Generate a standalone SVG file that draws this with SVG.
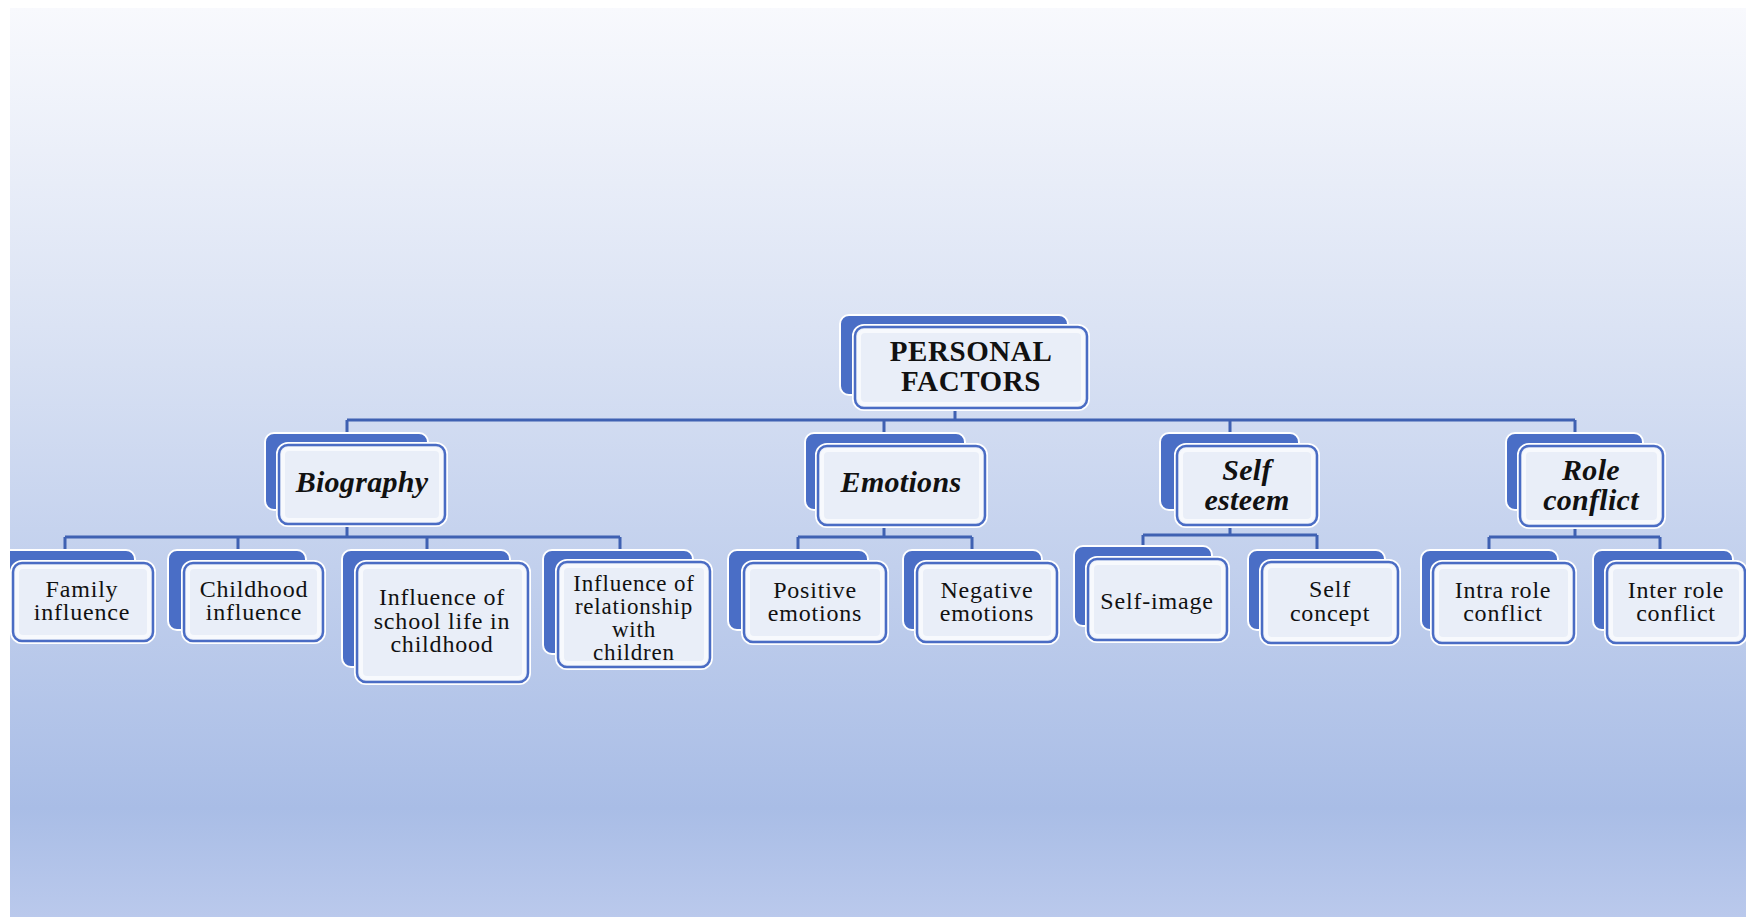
<svg xmlns="http://www.w3.org/2000/svg" width="1746" height="917" viewBox="0 0 1746 917">
  <defs>
    <linearGradient id="bg" x1="0" y1="0" x2="0" y2="1">
      <stop offset="0" stop-color="#f8f9fd"/>
      <stop offset="0.35" stop-color="#dbe3f4"/>
      <stop offset="0.88" stop-color="#a9bde6"/>
      <stop offset="1" stop-color="#bac9ec"/>
    </linearGradient>
    <clipPath id="page">
      <rect x="10" y="8" width="1736" height="909"/>
    </clipPath>
    <style>
      .back { fill: #4a6ec6; stroke: #ffffff; stroke-width: 2; }
      .halo { fill: none; stroke: #ffffff; stroke-width: 6; }
      .front { fill: #e9eef8; stroke: #4a6cc4; stroke-width: 2.5; }
      .rim { fill: none; stroke: #f7f9fd; stroke-width: 4; }
      .conn { fill: none; stroke: #3f61b2; stroke-width: 3; }
      text { font-family: "Liberation Serif", "Times New Roman", serif; fill: #111111; text-anchor: middle; }
      .root { font-size: 29px; font-weight: bold; letter-spacing: 0.6px; }
      .l2 { font-size: 30px; font-weight: bold; font-style: italic; letter-spacing: 0.3px; }
      .l3 { font-size: 24px; letter-spacing: 0.8px; }
      .tight { font-size: 23px; letter-spacing: 0.8px; }
    </style>
  </defs>

  <rect x="0" y="0" width="1746" height="917" fill="#ffffff"/>
  <rect x="10" y="8" width="1736" height="909" fill="url(#bg)"/>

  <g clip-path="url(#page)">
    <!-- elbow connectors between levels -->
    <g id="connectors">
      <path class="conn" d="M955 408 V420 M347 420 H1575 M347 420 V433 M884 420 V433 M1230 420 V433 M1575 420 V433"/>
      <path class="conn" d="M347 523 V537 M65 537 H620 M65 537 V550 M238 537 V550 M427 537 V550 M620 537 V550"/>
      <path class="conn" d="M884 525 V537 M798 537 H972 M798 537 V550 M972 537 V550"/>
      <path class="conn" d="M1230 525 V535 M1143 535 H1317 M1143 535 V546 M1317 535 V550"/>
      <path class="conn" d="M1575 526 V537 M1489 537 H1660 M1489 537 V550 M1660 537 V550"/>
    </g>

    <g id="personal-factors">
      <rect class="back" x="840" y="315" width="228" height="80" rx="9"/>
      <rect class="halo" x="855" y="327" width="232" height="81" rx="9"/>
      <rect class="front" x="855" y="327" width="232" height="81" rx="9"/>
      <rect class="rim" x="859" y="331" width="224" height="73" rx="6"/>
      <text class="root" x="971" y="361">PERSONAL</text>
      <text class="root" x="971" y="391">FACTORS</text>
    </g>

    <g id="biography">
      <rect class="back" x="265" y="433" width="163" height="77" rx="9"/>
      <rect class="halo" x="279" y="445" width="166" height="79" rx="9"/>
      <rect class="front" x="279" y="445" width="166" height="79" rx="9"/>
      <rect class="rim" x="283" y="449" width="158" height="71" rx="6"/>
      <text class="l2" x="362" y="492">Biography</text>
    </g>

    <g id="emotions">
      <rect class="back" x="805" y="433" width="160" height="77" rx="9"/>
      <rect class="halo" x="818" y="446" width="167" height="79" rx="9"/>
      <rect class="front" x="818" y="446" width="167" height="79" rx="9"/>
      <rect class="rim" x="822" y="450" width="159" height="71" rx="6"/>
      <text class="l2" x="901" y="492">Emotions</text>
    </g>

    <g id="self-esteem">
      <rect class="back" x="1160" y="433" width="139" height="77" rx="9"/>
      <rect class="halo" x="1177" y="446" width="140" height="79" rx="9"/>
      <rect class="front" x="1177" y="446" width="140" height="79" rx="9"/>
      <rect class="rim" x="1181" y="450" width="132" height="71" rx="6"/>
      <text class="l2" x="1247" y="480">Self</text>
      <text class="l2" x="1247" y="510">esteem</text>
    </g>

    <g id="role-conflict">
      <rect class="back" x="1506" y="433" width="137" height="77" rx="9"/>
      <rect class="halo" x="1520" y="446" width="143" height="80" rx="9"/>
      <rect class="front" x="1520" y="446" width="143" height="80" rx="9"/>
      <rect class="rim" x="1524" y="450" width="135" height="72" rx="6"/>
      <text class="l2" x="1591" y="480">Role</text>
      <text class="l2" x="1591" y="510">conflict</text>
    </g>

    <g id="family-influence">
      <rect class="back" x="-4" y="550" width="139" height="80" rx="9"/>
      <rect class="halo" x="13" y="563" width="140" height="78" rx="9"/>
      <rect class="front" x="13" y="563" width="140" height="78" rx="9"/>
      <rect class="rim" x="17" y="567" width="132" height="70" rx="6"/>
      <text class="l3" x="82" y="597">Family</text>
      <text class="l3" x="82" y="620">influence</text>
    </g>

    <g id="childhood-influence">
      <rect class="back" x="168" y="550" width="138" height="80" rx="9"/>
      <rect class="halo" x="184" y="563" width="139" height="78" rx="9"/>
      <rect class="front" x="184" y="563" width="139" height="78" rx="9"/>
      <rect class="rim" x="188" y="567" width="131" height="70" rx="6"/>
      <text class="l3" x="254" y="597">Childhood</text>
      <text class="l3" x="254" y="620">influence</text>
    </g>

    <g id="school-life">
      <rect class="back" x="342" y="550" width="168" height="117" rx="9"/>
      <rect class="halo" x="357" y="563" width="171" height="119" rx="9"/>
      <rect class="front" x="357" y="563" width="171" height="119" rx="9"/>
      <rect class="rim" x="361" y="567" width="163" height="111" rx="6"/>
      <text class="l3" x="442" y="605">Influence of</text>
      <text class="l3" x="442" y="629">school life in</text>
      <text class="l3" x="442" y="652">childhood</text>
    </g>

    <g id="relationship-children">
      <rect class="back" x="543" y="550" width="150" height="104" rx="9"/>
      <rect class="halo" x="558" y="562" width="152" height="105" rx="9"/>
      <rect class="front" x="558" y="562" width="152" height="105" rx="9"/>
      <rect class="rim" x="562" y="566" width="144" height="97" rx="6"/>
      <text class="tight" x="634" y="591">Influence of</text>
      <text class="tight" x="634" y="614">relationship</text>
      <text class="tight" x="634" y="637">with</text>
      <text class="tight" x="634" y="660">children</text>
    </g>

    <g id="positive-emotions">
      <rect class="back" x="728" y="550" width="140" height="80" rx="9"/>
      <rect class="halo" x="744" y="563" width="142" height="79" rx="9"/>
      <rect class="front" x="744" y="563" width="142" height="79" rx="9"/>
      <rect class="rim" x="748" y="567" width="134" height="71" rx="6"/>
      <text class="l3" x="815" y="598">Positive</text>
      <text class="l3" x="815" y="621">emotions</text>
    </g>

    <g id="negative-emotions">
      <rect class="back" x="903" y="550" width="139" height="80" rx="9"/>
      <rect class="halo" x="917" y="563" width="140" height="79" rx="9"/>
      <rect class="front" x="917" y="563" width="140" height="79" rx="9"/>
      <rect class="rim" x="921" y="567" width="132" height="71" rx="6"/>
      <text class="l3" x="987" y="598">Negative</text>
      <text class="l3" x="987" y="621">emotions</text>
    </g>

    <g id="self-image">
      <rect class="back" x="1074" y="546" width="138" height="80" rx="9"/>
      <rect class="halo" x="1088" y="559" width="139" height="81" rx="9"/>
      <rect class="front" x="1088" y="559" width="139" height="81" rx="9"/>
      <rect class="rim" x="1092" y="563" width="131" height="73" rx="6"/>
      <text class="l3" x="1157" y="609">Self-image</text>
    </g>

    <g id="self-concept">
      <rect class="back" x="1248" y="550" width="137" height="80" rx="9"/>
      <rect class="halo" x="1262" y="562" width="136" height="81" rx="9"/>
      <rect class="front" x="1262" y="562" width="136" height="81" rx="9"/>
      <rect class="rim" x="1266" y="566" width="128" height="73" rx="6"/>
      <text class="l3" x="1330" y="597">Self</text>
      <text class="l3" x="1330" y="621">concept</text>
    </g>

    <g id="intra-role-conflict">
      <rect class="back" x="1421" y="550" width="137" height="80" rx="9"/>
      <rect class="halo" x="1433" y="563" width="141" height="80" rx="9"/>
      <rect class="front" x="1433" y="563" width="141" height="80" rx="9"/>
      <rect class="rim" x="1437" y="567" width="133" height="72" rx="6"/>
      <text class="l3" x="1503" y="598">Intra role</text>
      <text class="l3" x="1503" y="621">conflict</text>
    </g>

    <g id="inter-role-conflict">
      <rect class="back" x="1593" y="550" width="140" height="80" rx="9"/>
      <rect class="halo" x="1607" y="563" width="138" height="80" rx="9"/>
      <rect class="front" x="1607" y="563" width="138" height="80" rx="9"/>
      <rect class="rim" x="1611" y="567" width="130" height="72" rx="6"/>
      <text class="l3" x="1676" y="598">Inter role</text>
      <text class="l3" x="1676" y="621">conflict</text>
    </g>
  </g>
</svg>
